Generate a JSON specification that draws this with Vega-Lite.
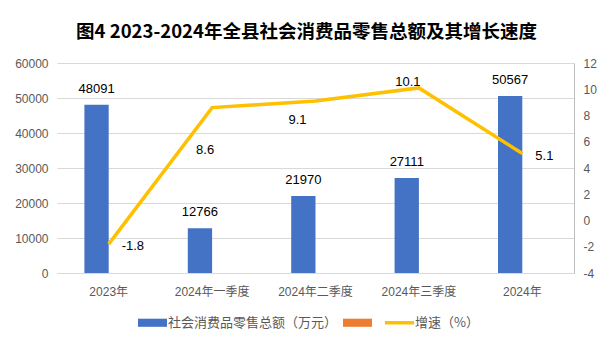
{
  "$schema": "https://vega.github.io/schema/vega-lite/v6.json",
  "width": 517,
  "height": 210,
  "autosize": "none",
  "padding": {"left": 57, "top": 63, "right": 41, "bottom": 80},
  "background": "white",
  "title": {
    "text": "图4 2023-2024年全县社会消费品零售总额及其增长速度",
    "font": "Noto Sans CJK SC",
    "fontSize": 18.5,
    "fontWeight": "bold",
    "color": "#000000",
    "anchor": "middle",
    "frame": "group",
    "offset": 16,
    "dx": -9
  },
  "config": {
    "view": {"stroke": null},
    "locale": {"number": {"decimal": ".", "thousands": ",", "grouping": [3], "currency": ["", ""], "minus": "-"}},
    "font": "Liberation Sans, Noto Sans CJK SC",
    "axis": {"labelFont": "Liberation Sans, Noto Sans CJK SC", "labelFontSize": 12, "labelColor": "#595959"}
  },
  "data": {
    "values": [
      {"period": "2023年", "series": "社会消费品零售总额（万元）", "amount": 48091, "rate": -1.8},
      {"period": "2024年一季度", "series": "社会消费品零售总额（万元）", "amount": 12766, "rate": 8.6},
      {"period": "2024年二季度", "series": "社会消费品零售总额（万元）", "amount": 21970, "rate": 9.1},
      {"period": "2024年三季度", "series": "社会消费品零售总额（万元）", "amount": 27111, "rate": 10.1},
      {"period": "2024年", "series": "社会消费品零售总额（万元）", "amount": 50567, "rate": 5.1}
    ]
  },
  "encoding": {
    "x": {
      "field": "period",
      "type": "nominal",
      "sort": null,
      "scale": {"paddingInner": 0.53, "paddingOuter": 0.265},
      "axis": {"title": null, "ticks": false, "domain": true, "domainColor": "#D9D9D9", "labelPadding": 13, "labelAngle": 0}
    }
  },
  "layer": [
    {
      "encoding": {
        "y": {
          "field": "amount",
          "type": "quantitative",
          "scale": {"domain": [0, 60000]},
          "axis": {"title": null, "format": "d", "values": [0, 10000, 20000, 30000, 40000, 50000, 60000], "grid": true, "gridColor": "#D9D9D9", "domain": false, "ticks": false, "labelPadding": 9}
        }
      },
      "layer": [
        {
          "mark": {"type": "bar"},
          "encoding": {
            "xOffset": {"field": "series", "type": "nominal", "scale": {"domain": ["社会消费品零售总额（万元）", " "], "paddingInner": 0}},
            "color": {
              "field": "series",
              "type": "nominal",
              "scale": {"domain": ["社会消费品零售总额（万元）", " ", "增速（%）"], "range": ["#4472C4", "#ED7D31", "#FFC000"]},
              "legend": {
                "orient": "none",
                "legendX": 89,
                "legendY": 253,
                "direction": "horizontal",
                "title": null,
                "symbolSize": 841,
                "labelFontSize": 13,
                "labelLimit": 400,
                "labelColor": "#595959",
                "labelFont": "Noto Sans CJK SC",
                "labelOffset": 9,
                "columnPadding": 5,
                "encode": {
                  "symbols": {
                    "update": {
                      "shape": {"signal": "datum.label === '增速（%）' ? 'stroke' : 'M-1,-0.28H1V0.28H-1Z'"},
                      "fill": {"signal": "datum.label === '增速（%）' ? 'transparent' : scale('color', datum.value)"},
                      "stroke": {"signal": "scale('color', datum.value)"},
                      "strokeWidth": {"signal": "datum.label === '增速（%）' ? 3.5 : 0"},
                      "opacity": {"value": 1}
                    }
                  }
                }
              }
            }
          }
        },
        {
          "mark": {"type": "text", "baseline": "alphabetic", "dy": -12, "fontSize": 13, "color": "#000000", "font": "Liberation Sans"},
          "encoding": {
            "xOffset": {"field": "series", "type": "nominal", "scale": {"domain": ["社会消费品零售总额（万元）", " "], "paddingInner": 0}},
            "text": {"field": "amount", "type": "quantitative", "format": "d"}
          }
        }
      ]
    },
    {
      "encoding": {
        "y": {
          "field": "rate",
          "type": "quantitative",
          "scale": {"domain": [-4, 12]},
          "axis": {"title": null, "orient": "right", "format": "d", "values": [-4, -2, 0, 2, 4, 6, 8, 10, 12], "grid": false, "domain": true, "domainColor": "#BFBFBF", "ticks": false, "labelPadding": 9}
        }
      },
      "layer": [
        {
          "mark": {"type": "line", "color": "#FFC000", "strokeWidth": 3.5},
          "encoding": {
            "color": {"datum": "增速（%）", "type": "nominal"}
          }
        },
        {
          "transform": [{"filter": "datum.period === '2023年' || datum.period === '2024年'"}],
          "mark": {"type": "text", "align": "left", "baseline": "middle", "dx": 13, "dy": 2, "fontSize": 13, "color": "#000000", "font": "Liberation Sans"},
          "encoding": {"text": {"field": "rate", "type": "quantitative", "format": ".1f"}}
        },
        {
          "transform": [{"filter": "datum.period === '2024年一季度'"}],
          "mark": {"type": "text", "align": "center", "baseline": "middle", "dx": -7, "dy": 42, "fontSize": 13, "color": "#000000", "font": "Liberation Sans"},
          "encoding": {"text": {"field": "rate", "type": "quantitative", "format": ".1f"}}
        },
        {
          "transform": [{"filter": "datum.period === '2024年二季度'"}],
          "mark": {"type": "text", "align": "center", "baseline": "middle", "dx": -18, "dy": 19, "fontSize": 13, "color": "#000000", "font": "Liberation Sans"},
          "encoding": {"text": {"field": "rate", "type": "quantitative", "format": ".1f"}}
        },
        {
          "transform": [{"filter": "datum.period === '2024年三季度'"}],
          "mark": {"type": "text", "align": "center", "baseline": "middle", "dx": -11, "dy": -6, "fontSize": 13, "color": "#000000", "font": "Liberation Sans"},
          "encoding": {"text": {"field": "rate", "type": "quantitative", "format": ".1f"}}
        }
      ]
    }
  ],
  "resolve": {"scale": {"y": "independent"}}
}
